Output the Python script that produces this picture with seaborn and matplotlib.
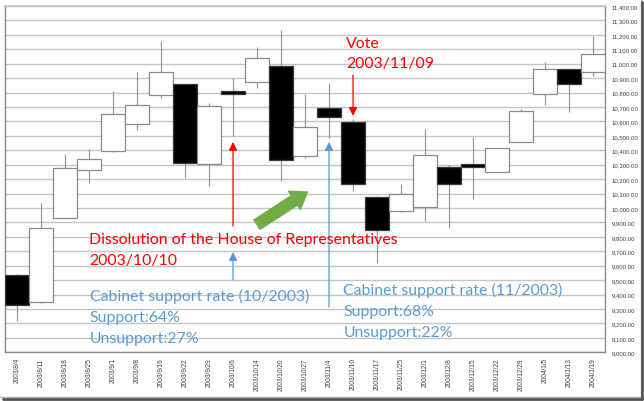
import numpy as np
import pandas as pd
import matplotlib
matplotlib.use("Agg")
import matplotlib.pyplot as plt
import seaborn as sns
from matplotlib.ticker import FuncFormatter, FixedLocator

# ---------------- data ----------------
dates = ["2003/8/4", "2003/8/11", "2003/8/18", "2003/8/25", "2003/9/1", "2003/9/8",
         "2003/9/16", "2003/9/22", "2003/9/29", "2003/10/6", "2003/10/14", "2003/10/20",
         "2003/10/27", "2003/11/4", "2003/11/10", "2003/11/17", "2003/11/25", "2003/12/1",
         "2003/12/8", "2003/12/15", "2003/12/22", "2003/12/29", "2004/1/5", "2004/1/13",
         "2004/1/19"]
open_ = [9536, 9346, 9934, 10266, 10398, 10581, 10783, 10857, 10303, 10814, 10876, 10987,
         10361, 10693, 10593, 10076, 9976, 10007, 10285, 10308, 10250, 10454, 10788, 10964,
         10941]
high = [9540, 10034, 10375, 10410, 10811, 10941, 11159, 10860, 10725, 10899, 11113, 11235,
        10788, 10864, 10616, 10080, 10169, 10551, 10295, 10489, 10417, 10685, 11010, 10964,
        11189]
low = [9216, 9340, 9930, 10171, 10390, 10540, 10760, 10210, 10153, 10496, 10834, 10187,
       10350, 10482, 10115, 9619, 9970, 9913, 9861, 10060, 10250, 10454, 10713, 10667,
       10918]
close = [9327, 9861, 10280, 10343, 10649, 10713, 10941, 10315, 10709, 10788, 11038, 10336,
         10558, 10628, 10169, 9851, 10099, 10370, 10169, 10285, 10417, 10674, 10964, 10857,
         11066]
y_ticks = list(range(9000, 11401, 100))

df = pd.DataFrame({"date": dates, "open": open_, "high": high, "low": low, "close": close})
df["x"] = np.arange(len(df))
df["up"] = df["close"] >= df["open"]

# ---------------- figure ----------------
sns.set_theme(style="white")
plt.rcParams["font.family"] = ["Liberation Sans", "DejaVu Sans"]

W, H = 644, 402
fig = plt.figure(figsize=(W / 100, H / 100), dpi=100)
fig.patch.set_facecolor("white")
L, R, T, B = 5, 605, 7, 353.3
ax = fig.add_axes([L / W, 1 - B / H, (R - L) / W, (B - T) / H])
ax.set_facecolor("white")

# wicks
ax.vlines(df["x"], df["low"], df["high"], color="#9a9a9a", lw=0.9, zorder=2)
# bodies
colors = np.where(df["up"], "white", "black")
edges = np.where(df["up"], "#8a8a8a", "#3a3a3a")
ax.bar(df["x"], df["close"] - df["open"], bottom=df["open"], width=1.0,
       color=colors, edgecolor=edges, linewidth=0.9, zorder=3)

ax.set_xlim(-0.5, len(df) - 0.5)
ax.set_ylim(9000, 11400)

# grid / y axis on right
ax.yaxis.set_major_locator(FixedLocator(y_ticks))
ax.yaxis.grid(True, color="#c4c4c4", lw=1.0)
ax.xaxis.grid(False)
ax.set_axisbelow(True)
ax.yaxis.tick_right()
ax.yaxis.set_major_formatter(FuncFormatter(lambda v, p: f"{v:,.2f}"))
ax.tick_params(axis="y", which="major", length=0, pad=4.5, labelsize=4.3, labelcolor="#404040")

# x axis: ticks at boundaries, labels at centers
ax.set_xticks(np.arange(-0.5, len(df), 1.0))
ax.set_xticklabels([])
ax.set_xticks(df["x"], minor=True)
ax.set_xticklabels(df["date"], minor=True, rotation=90, fontsize=4.7, color="#404040")
ax.tick_params(axis="x", which="major", direction="out", length=2.2, width=0.7, color="#808080")
ax.tick_params(axis="x", which="minor", length=0, pad=3.5)
for lab in ax.get_xticklabels(minor=True):
    lab.set_verticalalignment("top")
    lab.set_horizontalalignment("center")

for side in ["left", "right", "bottom"]:
    ax.spines[side].set_visible(True)
    ax.spines[side].set_color("#8c8c8c")
    ax.spines[side].set_linewidth(1.0)
ax.spines["top"].set_visible(True)
ax.spines["top"].set_color("#c4c4c4")

# ---------------- annotations ----------------
red = "#FF0000"
blue = "#5B9BD5"
green = "#70AD47"
afont = ["Lato", "DejaVu Sans"]
fs = 11.4

def line(x, y, s, c):
    ax.text(x, y, s, color=c, fontsize=fs, family=afont, va="baseline", ha="left", zorder=5)

line(13.71, 11116, "Vote", red)
line(13.71, 10977, "2003/11/09", red)
line(3.0, 9758, "Dissolution of the House of Representatives", red)
line(3.0, 9612, "2003/10/10", red)
line(3.04, 9365, "Cabinet support rate (10/2003)", blue)
line(3.04, 9219, "Support:64%", blue)
line(3.04, 9069, "Unsupport:27%", blue)
line(13.6, 9404, "Cabinet support rate (11/2003)", blue)
line(13.6, 9259, "Support:68%", blue)
line(13.6, 9113, "Unsupport:22%", blue)

def arrow(x0, y0, x1, y1, c):
    ax.annotate("", xy=(x1, y1), xytext=(x0, y0),
                arrowprops=dict(arrowstyle="-|>,head_length=0.5,head_width=0.25", color=c,
                                lw=0.9, shrinkA=0, shrinkB=0, mutation_scale=10),
                zorder=4)

arrow(9.0, 9875, 9.0, 10458, red)
arrow(9.0, 9501, 9.0, 9695, blue)
arrow(13.0, 9314, 13.0, 10458, blue)
arrow(14.0, 10922, 14.0, 10638, red)
ax.annotate("", xy=(12.1, 10111), xytext=(10.0, 9885),
            arrowprops=dict(arrowstyle="simple,head_length=0.85,head_width=1.2,tail_width=0.62",
                            color=green, shrinkA=0, shrinkB=0, mutation_scale=13), zorder=4)

# ---------------- frame shadow ----------------
from matplotlib.lines import Line2D
fig.add_artist(Line2D([640.5 / W, 640.5 / W], [1, 1 - 398 / H], transform=fig.transFigure,
                      color="#b0b0b0", lw=1.0))
fig.add_artist(Line2D([0, 640.5 / W], [1 - 397.5 / H, 1 - 397.5 / H], transform=fig.transFigure,
                      color="#b0b0b0", lw=1.0))
fig.add_artist(Line2D([642 / W, 642 / W], [1 - 3 / H, 1 - 400 / H], transform=fig.transFigure,
                      color="#555555", lw=2.0))
fig.add_artist(Line2D([3 / W, 642 / W], [1 - 399.5 / H, 1 - 399.5 / H], transform=fig.transFigure,
                      color="#555555", lw=2.0))

fig.savefig("out.png", dpi=100, facecolor="white")
